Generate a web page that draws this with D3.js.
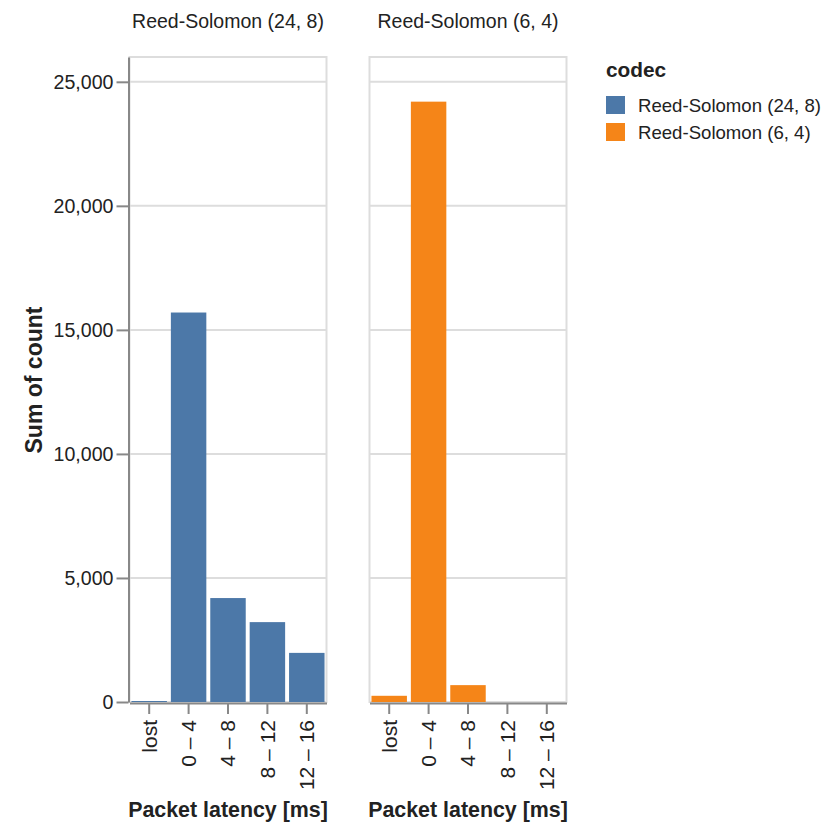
<!DOCTYPE html>
<html><head><meta charset="utf-8">
<script src="https://cdn.jsdelivr.net/npm/d3@7"></script>
<style>body{margin:0;background:#fff} text{font-family:"Liberation Sans",Arial,sans-serif;fill:#222}</style>
</head><body><svg id="c" width="830" height="824"></svg>
<script>
const categories = ["lost", "0 – 4", "4 – 8", "8 – 12", "12 – 16"];
const codecs = ["Reed-Solomon (24, 8)", "Reed-Solomon (6, 4)"];
const rs24_8 = [40, 15700, 4190, 3220, 1980];
const rs6_4 = [250, 24200, 680, 0, 0];
const colors = ["#4c78a8", "#f58518"];
const yTicks = [0, 5000, 10000, 15000, 20000, 25000];
const yDomainMax = 26000;
const yTitle = "Sum of count";
const xTitle = "Packet latency [ms]";
const legendTitle = "codec";

(function () {
const seriesValues = [rs24_8, rs6_4];
const svg = d3.select("#c");
const plotTop = 57, plotBottom = 702, panelW = 197;
const panelX = [129.5, 369.5];

const y = d3.scaleLinear().domain([0, yDomainMax]).range([plotBottom, plotTop]);
const color = d3.scaleOrdinal().domain(codecs).range(colors);
const fmt = d3.format(",");

codecs.forEach((codec, pi) => {
  const x0 = panelX[pi];
  const x = d3.scaleBand().domain(categories).range([x0, x0 + panelW]).paddingInner(0.1).paddingOuter(0.05);
  const g = svg.append("g");
  g.append("rect").attr("x", x0).attr("y", plotTop).attr("width", panelW).attr("height", plotBottom - plotTop)
    .attr("fill", "none").attr("stroke", "#ddd").attr("stroke-width", 2);
  g.selectAll("line.grid").data(yTicks).join("line").attr("class", "grid")
    .attr("x1", x0).attr("x2", x0 + panelW).attr("y1", d => y(d)).attr("y2", d => y(d))
    .attr("stroke", "#ddd").attr("stroke-width", 2);
  const vals = seriesValues[pi];
  g.selectAll("rect.bar").data(categories.map((c, i) => ({c, v: vals[i]}))).join("rect").attr("class", "bar")
    .attr("x", d => x(d.c)).attr("width", x.bandwidth())
    .attr("y", d => y(d.v)).attr("height", d => y(0) - y(d.v))
    .attr("fill", color(codec));
  svg.append("text").attr("x", x0 + panelW / 2).attr("y", 28).attr("text-anchor", "middle")
    .style("font-size", "19.5px").text(codec);
  const xa = svg.append("g").attr("transform", `translate(0,${plotBottom + 1})`)
    .call(d3.axisBottom(x).tickSize(11).tickSizeOuter(0));
  xa.select(".domain").attr("stroke", "#888").attr("stroke-width", 2);
  xa.selectAll(".tick line").attr("stroke", "#888").attr("stroke-width", 2);
  xa.selectAll(".tick text").attr("transform", "rotate(-90)").attr("x", -17).attr("y", 0).attr("dy", "0.35em")
    .attr("text-anchor", "end").style("font-size", "21px").style("font-family", '"Liberation Sans",Arial,sans-serif').attr("fill", "#222");
  svg.append("text").attr("x", x0 + panelW / 2).attr("y", 817).attr("text-anchor", "middle")
    .style("font-size", "21.4px").style("font-weight", "bold").text(xTitle);
});

const ya = svg.append("g").attr("transform", `translate(${panelX[0] - 1},0)`)
  .call(d3.axisLeft(y).tickValues(yTicks).tickFormat(fmt).tickSize(12).tickSizeOuter(0));
ya.select(".domain").attr("stroke", "#888").attr("stroke-width", 2);
ya.selectAll(".tick line").attr("stroke", "#888").attr("stroke-width", 2);
ya.selectAll(".tick text").attr("x", -15).style("font-size", "19.6px")
  .style("font-family", '"Liberation Sans",Arial,sans-serif').attr("fill", "#222");
svg.append("text").attr("transform", `translate(42,380) rotate(-90)`).attr("text-anchor", "middle")
  .style("font-size", "23px").style("font-weight", "bold").text(yTitle);

const lg = svg.append("g");
lg.append("text").attr("x", 606).attr("y", 77).style("font-size", "20.8px").style("font-weight", "bold").text(legendTitle);
const items = lg.selectAll("g.item").data(codecs).join("g").attr("class", "item")
  .attr("transform", (d, i) => `translate(606,${105 + i * 27})`);
items.append("rect").attr("x", 0).attr("y", -9).attr("width", 19).attr("height", 18).attr("fill", d => color(d));
items.append("text").attr("x", 32).attr("y", 0).attr("dy", "0.35em").style("font-size", "18.6px").text(d => d);
})();
</script></body></html>
